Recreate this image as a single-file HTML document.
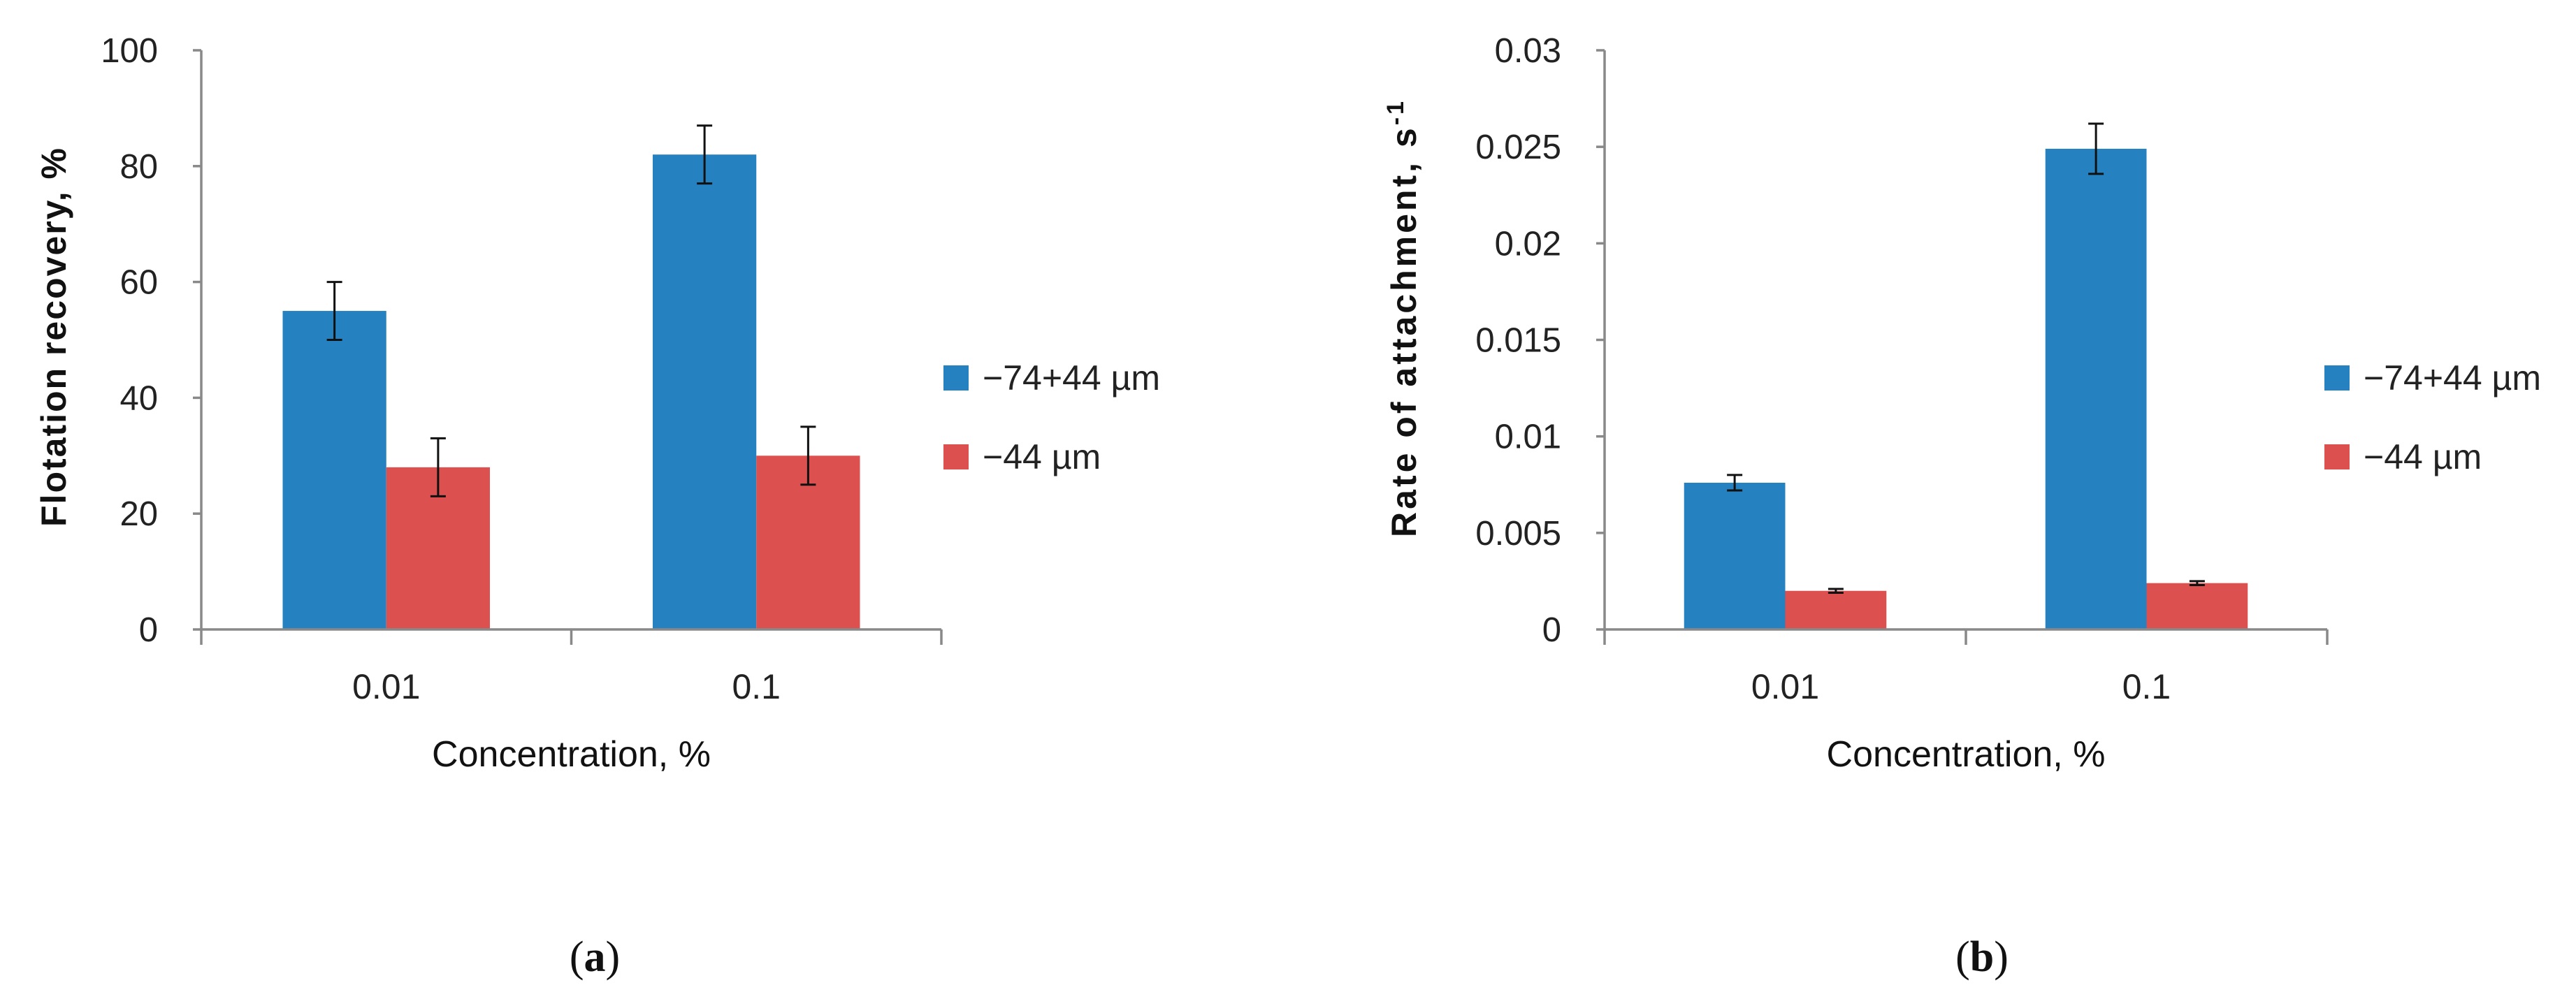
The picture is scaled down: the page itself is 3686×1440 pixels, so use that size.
<!DOCTYPE html>
<html><head><meta charset="utf-8"><style>
html,body{margin:0;padding:0;background:#fff;}
svg{display:block;font-family:"Liberation Sans",sans-serif;}
</style></head><body>
<svg id="fig" width="3686" height="1440" viewBox="0 0 3686 1440"></svg>
<script>
const categories = ["0.01", "0.1"];
const seriesNames = ["\u221274+44 \u00b5m", "\u221244 \u00b5m"];
const recoveryCoarse = [55, 82];
const recoveryFine = [28, 30];
const recoveryCoarseErr = [5, 5];
const recoveryFineErr = [5, 5];
const rateCoarse = [0.0076, 0.0249];
const rateFine = [0.0020, 0.0024];
const rateCoarseErr = [0.0004, 0.0013];
const rateFineErr = [0.0001, 0.0001];
const recoveryTicks = ["0","20","40","60","80","100"];
const rateTicks = ["0","0.005","0.01","0.015","0.02","0.025","0.03"];

const NS="http://www.w3.org/2000/svg";
const svg=document.getElementById('fig');
const COLORS=["#2681c0","#dc5050"];
function mk(tag,attrs,parent){const e=document.createElementNS(NS,tag);for(const k in attrs)e.setAttribute(k,attrs[k]);(parent||svg).appendChild(e);return e;}

function chart(cfg){
  const g=mk('g',{});
  
  
  const x0=cfg.x0,x1=cfg.x1,yTop=72,yBot=901;
  const ymax=parseFloat(cfg.ticks[cfg.ticks.length-1]);
  const y=v=>yBot-(v/ymax)*(yBot-yTop);
  const band=(x1-x0)/categories.length;
  const vals=[cfg.s1,cfg.s2], errs=[cfg.e1,cfg.e2];
  const barW=band*0.28;
  categories.forEach((c,i)=>{
    const cx=x0+band*(i+0.5);
    for(let s=0;s<2;s++){
      const bx=cx-barW+s*barW;
      const r=mk('rect',{x:bx,y:y(vals[s][i]),width:barW,height:yBot-y(vals[s][i]),fill:COLORS[s]},g);
      
      
      const ex=bx+barW/2, hi=y(vals[s][i]+errs[s][i]), lo=y(vals[s][i]-errs[s][i]);
      const eg=mk('g',{stroke:'#111','stroke-width':3},g);
      
      
      mk('line',{x1:ex,x2:ex,y1:hi,y2:lo},eg);
      mk('line',{x1:ex-11,x2:ex+11,y1:hi,y2:hi},eg);
      mk('line',{x1:ex-11,x2:ex+11,y1:lo,y2:lo},eg);
    }
    const t=mk('text',{x:cx,y:1000,'font-size':50,'text-anchor':'middle',fill:'#222'},g);
    t.textContent=c;
    
    
  });
  const ax=mk('g',{stroke:'#898989','stroke-width':3.5,fill:'none'},g);
  
  
  mk('line',{x1:x0,x2:x0,y1:yTop,y2:yBot},ax);
  mk('line',{x1:x0,x2:x1,y1:yBot,y2:yBot},ax);
  for(let i=0;i<=categories.length;i++){const tx=x0+band*i;mk('line',{x1:tx,x2:tx,y1:yBot,y2:yBot+22},ax);}
  cfg.ticks.forEach(tk=>{
    const v=parseFloat(tk), ty=y(v);
    mk('line',{x1:x0-12,x2:x0,y1:ty,y2:ty},ax);
    const t=mk('text',{x:x0-62,y:ty+17,'font-size':49,'text-anchor':'end',fill:'#222'},g);
    t.textContent=tk;
    
    
  });
  const xt=mk('text',{x:(x0+x1)/2,y:1097,'font-size':52,'text-anchor':'middle',fill:'#111'},g);
  xt.textContent='Concentration, %';
  
  
  const yt=mk('text',{x:0,y:0,'font-size':50,'font-weight':'bold','letter-spacing':cfg.ls,'text-anchor':'middle',fill:'#111',transform:`translate(${cfg.ytx},${cfg.yty}) rotate(-90)`},g);
  yt.innerHTML=cfg.ytitle;
  
  
  seriesNames.forEach((n,s)=>{
    const lg=mk('g',{},g);
    
    
    const ly=523+s*113;
    mk('rect',{x:cfg.lx,y:ly,width:36,height:36,fill:COLORS[s]},lg);
    const t=mk('text',{x:cfg.lx+56,y:ly+35,'font-size':50,fill:'#222'},lg);
    t.textContent=n;
  });
  const pl=mk('text',{x:cfg.px,y:1390,'font-size':62,'text-anchor':'middle','font-family':'Liberation Serif, serif',fill:'#111'},g);
  pl.innerHTML=cfg.plabel;
  
  
}

chart({name:'chart-a',x0:288,x1:1347,ticks:recoveryTicks,s1:recoveryCoarse,s2:recoveryFine,e1:recoveryCoarseErr,e2:recoveryFineErr,
  ytitle:'Flotation recovery, %',ls:2,ytx:94,yty:482,lx:1350,px:851,plabel:'(<tspan font-weight="bold">a</tspan>)'});
chart({name:'chart-b',x0:2296,x1:3330,ticks:rateTicks,s1:rateCoarse,s2:rateFine,e1:rateCoarseErr,e2:rateFineErr,
  ytitle:'Rate of attachment, s<tspan dy="-18" font-size="34">-1</tspan>',ls:4,ytx:2026,yty:455,lx:3326,px:2836,plabel:'(<tspan font-weight="bold">b</tspan>)'});
</script>
</body></html>
